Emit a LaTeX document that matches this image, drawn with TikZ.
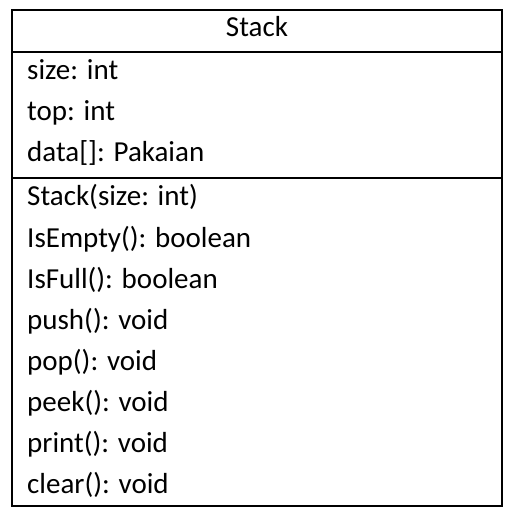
\documentclass[tikz,border=0pt]{standalone}
\usepackage{fontspec}
\setmainfont{Carlito}
\begin{document}
\begin{tikzpicture}[x=1pt,y=-1pt,
  frame/.style={line width=2.8pt},
  member/.style={anchor=base west,inner sep=0pt,font=\fontsize{29}{35}\selectfont},
  title/.style={anchor=base,inner sep=0pt,font=\fontsize{29}{35}\selectfont}]
\useasboundingbox (0,0) rectangle (514,518);
% class box with its three compartments
\coordinate (tl) at (12,10);
\coordinate (br) at (502,506);
\draw[frame] (tl) rectangle (br);
\draw[frame] (12,52) coordinate (h1) -- (502,52) coordinate (h2);
\draw[frame] (12,178) coordinate (s1) -- (502,178) coordinate (s2);
% class name
\node[title] (name) at (257,37) {Stack};
% attributes
\node[member] (a1) at (27,80) {size: int};
\node[member] (a2) at (27,121) {top: int};
\node[member] (a3) at (27,162) {data[]: Pakaian};
% operations
\node[member] (m1) at (27,206) {Stack(size: int)};
\node[member] (m2) at (27,247) {IsEmpty(): boolean};
\node[member] (m3) at (27,288) {IsFull(): boolean};
\node[member] (m4) at (27,329) {push(): void};
\node[member] (m5) at (27,370) {pop(): void};
\node[member] (m6) at (27,411) {peek(): void};
\node[member] (m7) at (27,452) {print(): void};
\node[member] (m8) at (27,493) {clear(): void};
\end{tikzpicture}
\end{document}
